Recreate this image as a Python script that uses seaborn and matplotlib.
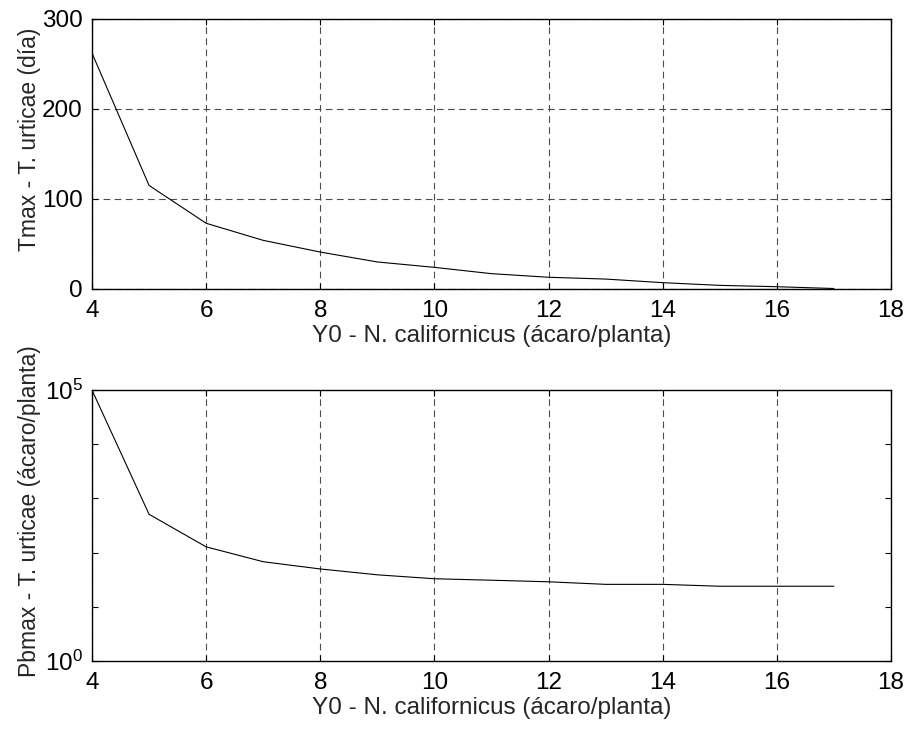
import matplotlib
matplotlib.use("Agg")
import matplotlib.pyplot as plt
import seaborn as sns
import pandas as pd
from matplotlib.ticker import FixedLocator, NullLocator, FixedFormatter

# Initial predator density Y0 (N. californicus, mites per plant)
y0_predator = [4, 5, 6, 7, 8, 9, 10, 11, 12, 13, 14, 15, 16, 17]
# Time to extinction of the prey population (days)
tmax_days = [262, 115, 73, 54, 41, 30, 24, 17, 13, 11, 7, 4, 2.5, 0.5]
# Peak prey population (T. urticae, mites per plant)
pbmax_prey = [100000, 510, 128, 68, 50, 39, 33, 31, 29, 26, 26, 24, 24, 24]

x_ticks = [4, 6, 8, 10, 12, 14, 16, 18]
top_y_ticks = [0, 100, 200, 300]
log_y_ticks = [1e0, 1e1, 1e2, 1e3, 1e4, 1e5]
log_y_labels = ["$10^0$", "", "", "", "", "$10^5$"]

xlabel = "Y0 - N. californicus (ácaro/planta)"
ylabel_top = "Tmax - T. urticae (día)"
ylabel_bottom = "Pbmax - T. urticae (ácaro/planta)"

sns.set_theme(style="white")
plt.rcParams["font.family"] = ["Liberation Sans", "DejaVu Sans"]
plt.rcParams["mathtext.default"] = "regular"

TICK_FS = 17.5
XLAB_FS = 17.5
YLAB_FS = 16.5

df = pd.DataFrame({"y0": y0_predator, "tmax": tmax_days, "pbmax": pbmax_prey})

fig = plt.figure(figsize=(9.09, 7.31), dpi=100)
ax1 = fig.add_axes([0.1012, 0.6047, 0.879, 0.3694])
ax2 = fig.add_axes([0.1012, 0.0957, 0.879, 0.3707])

grid_kw = dict(color="0.3", linestyle=(0, (6, 4)), linewidth=0.8)

sns.lineplot(data=df, x="y0", y="tmax", ax=ax1, color="black", linewidth=0.8)
ax1.set_xlim(4, 18)
ax1.set_ylim(0, 300)
ax1.set_xticks(x_ticks)
ax1.set_yticks(top_y_ticks)
ax1.grid(True, **grid_kw)
ax1.set_xlabel(xlabel, fontsize=XLAB_FS, labelpad=2)
ax1.set_ylabel(ylabel_top, fontsize=YLAB_FS)

sns.lineplot(data=df, x="y0", y="pbmax", ax=ax2, color="black", linewidth=0.8)
ax2.set_yscale("log")
ax2.set_xlim(4, 18)
ax2.set_ylim(1e0, 1e5)
ax2.set_xticks(x_ticks)
ax2.yaxis.set_major_locator(FixedLocator(log_y_ticks))
ax2.yaxis.set_major_formatter(FixedFormatter(log_y_labels))
ax2.yaxis.set_minor_locator(NullLocator())
ax2.xaxis.grid(True, **grid_kw)
ax2.yaxis.grid(False)
ax2.set_xlabel(xlabel, fontsize=XLAB_FS, labelpad=2)
ax2.set_ylabel(ylabel_bottom, fontsize=YLAB_FS)

for ax in (ax1, ax2):
    ax.set_axisbelow(True)
    for s in ax.spines.values():
        s.set_visible(True)
        s.set_color("black")
        s.set_linewidth(1.0)
    ax.tick_params(direction="in", length=4.5, width=0.8, colors="black",
                   top=True, right=True, bottom=True, left=True,
                   labelsize=TICK_FS)
    ax.tick_params(axis="x", pad=8)
    ax.tick_params(axis="y", pad=6.5)
    ax.yaxis.set_label_coords(-0.064, 0.555)
    ax.set_facecolor("white")

fig.savefig("out.png", dpi=100, facecolor="white")
